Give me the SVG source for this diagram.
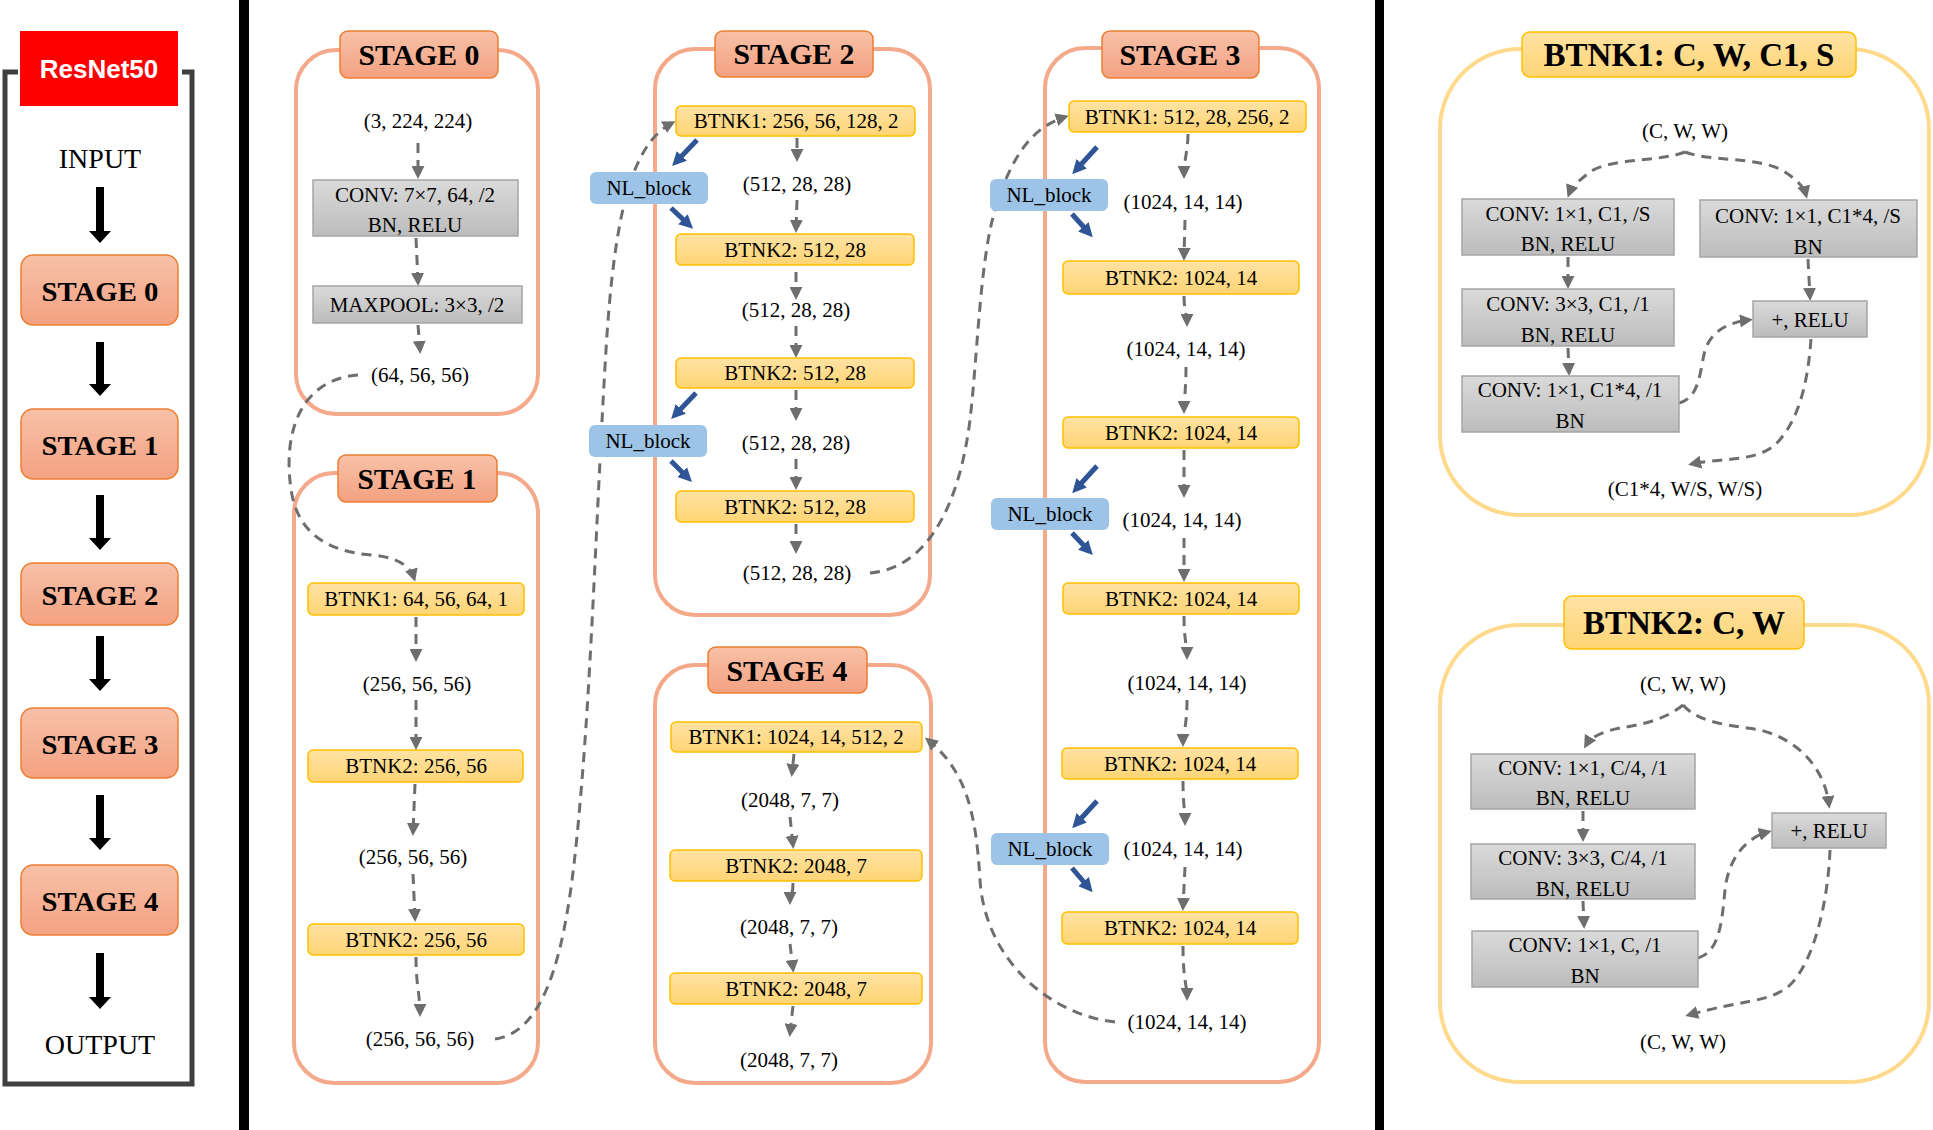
<svg xmlns="http://www.w3.org/2000/svg" width="1933" height="1130" viewBox="0 0 1933 1130">
<defs>
<linearGradient id="gStage" x1="0" y1="0" x2="0" y2="1"><stop offset="0" stop-color="#F7C1A8"/><stop offset="1" stop-color="#F4A181"/></linearGradient>
<linearGradient id="gYel" x1="0" y1="0" x2="0" y2="1"><stop offset="0" stop-color="#FFE3A4"/><stop offset="1" stop-color="#FFD474"/></linearGradient>
<linearGradient id="gGray" x1="0" y1="0" x2="0" y2="1"><stop offset="0" stop-color="#DADADA"/><stop offset="1" stop-color="#BCBCBC"/></linearGradient>
<marker id="ah" viewBox="0 0 10 10" refX="7" refY="5" markerWidth="13" markerHeight="13" markerUnits="userSpaceOnUse" orient="auto"><path d="M0,0 L10,5 L0,10 z" fill="#6E6E6E"/></marker>
<marker id="bh" viewBox="0 0 10 10" refX="6" refY="5" markerWidth="14" markerHeight="14" markerUnits="userSpaceOnUse" orient="auto"><path d="M0,0 L10,5 L0,10 z" fill="#2F5597"/></marker>
<style>
.t{font-family:"Liberation Serif","Times New Roman",serif;font-size:21px;fill:#000;text-anchor:middle;dominant-baseline:central}
.stg{font-weight:bold;font-size:29px}
.lstg{font-weight:bold;font-size:28px}
.pl{font-weight:bold;font-size:33px}
.io{font-size:28px}
.cont{fill:none;stroke:#F4A98A;stroke-width:4}
.pcont{fill:none;stroke:#FFD98C;stroke-width:4}
.lab{fill:url(#gStage);stroke:#ED7D31;stroke-width:1.5}
.yb{fill:url(#gYel);stroke:#FFC000;stroke-width:1.5}
.gb{fill:url(#gGray);stroke:#A5A5A5;stroke-width:1.5}
.nl{fill:#9DC3E6}
.d{fill:none;stroke:#6E6E6E;stroke-width:3;stroke-dasharray:10 7;marker-end:url(#ah)}
.b{fill:none;stroke:#2F5597;stroke-width:5;marker-end:url(#bh)}
.blk{fill:#000}
</style>
</defs>
<rect x="0" y="0" width="1933" height="1130" fill="#FFFFFF"/>

<!-- separators -->
<rect x="239" y="0" width="10" height="1130" fill="#000"/>
<rect x="1375" y="0" width="9" height="1130" fill="#000"/>

<!-- left overview panel -->
<g id="overview-frame">
<path d="M18,72 H5 V1084 H192 V72 H182" fill="none" stroke="#404040" stroke-width="5"/>
<rect x="20" y="31" width="158" height="75" fill="#FF0000"/>
<text x="99" y="69" style="font-family:'Liberation Sans',Arial,sans-serif;font-weight:bold;font-size:26px;fill:#FFFFFF;text-anchor:middle;dominant-baseline:central">ResNet50</text>
</g>
<g id="ov-input"><text class="t io" x="100" y="158">INPUT</text></g>
<g id="ov-stage0"><rect class="lab" x="21" y="255" width="157" height="70" rx="12"/><text class="t lstg" x="100" y="291" textLength="117" lengthAdjust="spacingAndGlyphs">STAGE 0</text></g>
<g id="ov-stage1"><rect class="lab" x="21" y="409" width="157" height="70" rx="12"/><text class="t lstg" x="100" y="445" textLength="117" lengthAdjust="spacingAndGlyphs">STAGE 1</text></g>
<g id="ov-stage2"><rect class="lab" x="21" y="563" width="157" height="62" rx="12"/><text class="t lstg" x="100" y="595" textLength="117" lengthAdjust="spacingAndGlyphs">STAGE 2</text></g>
<g id="ov-stage3"><rect class="lab" x="21" y="708" width="157" height="70" rx="12"/><text class="t lstg" x="100" y="744" textLength="117" lengthAdjust="spacingAndGlyphs">STAGE 3</text></g>
<g id="ov-stage4"><rect class="lab" x="21" y="865" width="157" height="70" rx="12"/><text class="t lstg" x="100" y="901" textLength="117" lengthAdjust="spacingAndGlyphs">STAGE 4</text></g>
<g id="ov-output"><text class="t io" x="100" y="1044">OUTPUT</text></g>

<!-- containers -->
<g id="stage0">
<rect class="cont" x="296" y="50" width="242" height="364" rx="40"/>
<rect class="lab" x="340" y="31" width="158" height="47" rx="8"/>
<text class="t stg" x="419" y="55" textLength="121" lengthAdjust="spacingAndGlyphs">STAGE 0</text>
</g>
<g id="stage1">
<rect class="cont" x="294" y="473" width="244" height="610" rx="40"/>
<rect class="lab" x="338" y="455" width="159" height="47" rx="8"/>
<text class="t stg" x="417" y="479" textLength="119" lengthAdjust="spacingAndGlyphs">STAGE 1</text>
</g>
<g id="stage2">
<rect class="cont" x="655" y="49" width="275" height="566" rx="40"/>
<rect class="lab" x="715" y="31" width="158" height="46" rx="8"/>
<text class="t stg" x="794" y="54" textLength="121" lengthAdjust="spacingAndGlyphs">STAGE 2</text>
</g>
<g id="stage3">
<rect class="cont" x="1045" y="48" width="274" height="1034" rx="40"/>
<rect class="lab" x="1102" y="31" width="157" height="47" rx="8"/>
<text class="t stg" x="1180" y="55" textLength="121" lengthAdjust="spacingAndGlyphs">STAGE 3</text>
</g>
<g id="stage4">
<rect class="cont" x="655" y="665" width="276" height="418" rx="40"/>
<rect class="lab" x="708" y="647" width="159" height="46" rx="8"/>
<text class="t stg" x="787" y="671" textLength="121" lengthAdjust="spacingAndGlyphs">STAGE 4</text>
</g>
<g id="btnk1-panel">
<rect class="pcont" x="1440" y="49" width="489" height="466" rx="80"/>
<rect class="yb" x="1522" y="32" width="334" height="45" rx="8"/>
<text class="t pl" x="1689" y="55" textLength="291" lengthAdjust="spacingAndGlyphs">BTNK1: C, W, C1, S</text>
</g>
<g id="btnk2-panel">
<rect class="pcont" x="1440" y="625" width="489" height="457" rx="80"/>
<rect class="yb" x="1564" y="596" width="240" height="53" rx="8"/>
<text class="t pl" x="1684" y="623" textLength="202" lengthAdjust="spacingAndGlyphs">BTNK2: C, W</text>
</g>

<!-- connectors -->
<g id="connectors">
<!-- overview block arrows -->
<path class="blk" d="M96,187 H104 V231 H111 L100,243 L89,231 H96 Z"/>
<path class="blk" d="M96,342 H104 V384 H111 L100,396 L89,384 H96 Z"/>
<path class="blk" d="M96,495 H104 V538 H111 L100,550 L89,538 H96 Z"/>
<path class="blk" d="M96,636 H104 V679 H111 L100,691 L89,679 H96 Z"/>
<path class="blk" d="M96,795 H104 V838 H111 L100,850 L89,838 H96 Z"/>
<path class="blk" d="M96,953 H104 V997 H111 L100,1009 L89,997 H96 Z"/>

<!-- stage 0 -->
<path class="d" d="M418,143 L418,175"/>
<path class="d" d="M416,238 L418,282"/>
<path class="d" d="M418,325 L420,350"/>
<!-- stage 1 -->
<path class="d" d="M416,617 L416,658"/>
<path class="d" d="M416,700 L416,746"/>
<path class="d" d="M415,784 L413,832"/>
<path class="d" d="M413,874 L415,918"/>
<path class="d" d="M416,957 C416,985 420,995 420,1013"/>
<!-- stage 2 -->
<path class="d" d="M797,138 L797,158"/>
<path class="d" d="M797,200 L796,229"/>
<path class="d" d="M796,272 L796,296"/>
<path class="d" d="M796,326 L796,354"/>
<path class="d" d="M796,390 L796,417"/>
<path class="d" d="M796,459 L796,486"/>
<path class="d" d="M796,524 L796,550"/>
<!-- stage 3 -->
<path class="d" d="M1188,134 C1188,150 1184,160 1184,175"/>
<path class="d" d="M1185,220 L1184,257"/>
<path class="d" d="M1184,296 C1184,310 1187,315 1187,323"/>
<path class="d" d="M1186,367 C1186,390 1184,400 1184,410"/>
<path class="d" d="M1184,450 L1184,494"/>
<path class="d" d="M1184,538 L1184,578"/>
<path class="d" d="M1184,616 C1184,640 1187,645 1187,656"/>
<path class="d" d="M1187,700 C1187,725 1183,735 1183,743"/>
<path class="d" d="M1183,781 C1183,805 1185,810 1185,822"/>
<path class="d" d="M1185,867 L1183,907"/>
<path class="d" d="M1183,946 C1183,980 1187,985 1187,997"/>
<!-- stage 4 -->
<path class="d" d="M794,754 L792,773"/>
<path class="d" d="M790,817 L793,845"/>
<path class="d" d="M793,883 C793,895 790,898 790,901"/>
<path class="d" d="M790,944 L793,969"/>
<path class="d" d="M793,1006 L790,1033"/>

<!-- inter-stage curves -->
<path class="d" d="M358,375 C296,380 282,440 292,495 C300,535 330,552 372,555 C395,557 410,565 414,578"/>
<path class="d" d="M495,1039 C560,1030 572,900 582,780 C592,660 598,480 606,350 C614,220 630,145 672,123"/>
<path class="d" d="M870,573 C930,568 960,500 970,420 C978,350 980,260 995,210 C1010,160 1030,128 1065,117"/>
<path class="d" d="M1115,1022 C1050,1015 985,960 980,880 C976,810 965,770 928,740"/>

<!-- NL block arrows -->
<path class="b" d="M697,140 L676,162"/>
<path class="b" d="M671,208 L689,225"/>
<path class="b" d="M696,393 L675,415"/>
<path class="b" d="M671,461 L688,478"/>
<path class="b" d="M1097,147 L1076,170"/>
<path class="b" d="M1072,214 L1089,233"/>
<path class="b" d="M1097,466 L1076,489"/>
<path class="b" d="M1072,533 L1089,551"/>
<path class="b" d="M1097,801 L1076,824"/>
<path class="b" d="M1072,868 L1089,888"/>

<!-- BTNK1 panel -->
<path class="d" d="M1685,152 C1660,162 1610,158 1590,172 C1580,180 1572,186 1569,194"/>
<path class="d" d="M1685,152 C1710,162 1760,156 1785,172 C1797,180 1804,187 1806,195"/>
<path class="d" d="M1568,257 L1568,285"/>
<path class="d" d="M1568,348 L1569,372"/>
<path class="d" d="M1808,259 L1810,297"/>
<path class="d" d="M1679,403 C1700,398 1700,370 1705,350 C1712,330 1730,322 1749,320"/>
<path class="d" d="M1811,339 C1808,380 1800,420 1775,445 C1755,462 1720,458 1692,464"/>
<!-- BTNK2 panel -->
<path class="d" d="M1683,705 C1665,720 1640,725 1620,728 C1600,732 1590,738 1586,745"/>
<path class="d" d="M1683,705 C1700,725 1740,726 1760,730 C1800,740 1825,770 1829,805"/>
<path class="d" d="M1583,811 L1583,838"/>
<path class="d" d="M1583,901 L1584,925"/>
<path class="d" d="M1698,958 C1720,952 1722,920 1725,890 C1728,860 1745,838 1768,832"/>
<path class="d" d="M1830,850 C1828,900 1815,960 1790,985 C1770,1003 1740,1000 1689,1015"/>
</g>

<!-- stage 0 nodes -->
<g id="s0-in"><text class="t" x="418" y="121">(3, 224, 224)</text></g>
<g id="s0-conv"><rect class="gb" x="313" y="180" width="205" height="56"/><text class="t" x="415" y="195">CONV: 7×7, 64, /2</text><text class="t" x="415" y="225">BN, RELU</text></g>
<g id="s0-pool"><rect class="gb" x="313" y="286" width="209" height="37"/><text class="t" x="417" y="305">MAXPOOL: 3×3, /2</text></g>
<g id="s0-out"><text class="t" x="420" y="375">(64, 56, 56)</text></g>

<!-- stage 1 nodes -->
<g id="s1-b1"><rect class="yb" x="308" y="583" width="216" height="32" rx="5"/><text class="t" x="416" y="599">BTNK1: 64, 56, 64, 1</text></g>
<g id="s1-t1"><text class="t" x="417" y="684">(256, 56, 56)</text></g>
<g id="s1-b2"><rect class="yb" x="308" y="750" width="215" height="32" rx="5"/><text class="t" x="416" y="766">BTNK2: 256, 56</text></g>
<g id="s1-t2"><text class="t" x="413" y="857">(256, 56, 56)</text></g>
<g id="s1-b3"><rect class="yb" x="308" y="924" width="216" height="31" rx="5"/><text class="t" x="416" y="940">BTNK2: 256, 56</text></g>
<g id="s1-t3"><text class="t" x="420" y="1039">(256, 56, 56)</text></g>

<!-- stage 2 nodes -->
<g id="s2-b1"><rect class="yb" x="676" y="106" width="239" height="30" rx="5"/><text class="t" x="796" y="121">BTNK1: 256, 56, 128, 2</text></g>
<g id="s2-t1"><text class="t" x="797" y="184">(512, 28, 28)</text></g>
<g id="s2-b2"><rect class="yb" x="676" y="234" width="238" height="31" rx="5"/><text class="t" x="795" y="250">BTNK2: 512, 28</text></g>
<g id="s2-t2"><text class="t" x="796" y="310">(512, 28, 28)</text></g>
<g id="s2-b3"><rect class="yb" x="676" y="358" width="238" height="30" rx="5"/><text class="t" x="795" y="373">BTNK2: 512, 28</text></g>
<g id="s2-t3"><text class="t" x="796" y="443">(512, 28, 28)</text></g>
<g id="s2-b4"><rect class="yb" x="676" y="491" width="238" height="31" rx="5"/><text class="t" x="795" y="507">BTNK2: 512, 28</text></g>
<g id="s2-t4"><text class="t" x="797" y="573">(512, 28, 28)</text></g>
<g id="s2-nl1"><rect class="nl" x="590" y="172" width="118" height="32" rx="6"/><text class="t" x="649" y="188">NL_block</text></g>
<g id="s2-nl2"><rect class="nl" x="589" y="425" width="118" height="32" rx="6"/><text class="t" x="648" y="441">NL_block</text></g>

<!-- stage 3 nodes -->
<g id="s3-b1"><rect class="yb" x="1069" y="101" width="237" height="31" rx="5"/><text class="t" x="1187" y="117">BTNK1: 512, 28, 256, 2</text></g>
<g id="s3-t1"><text class="t" x="1183" y="202">(1024, 14, 14)</text></g>
<g id="s3-b2"><rect class="yb" x="1063" y="261" width="236" height="33" rx="5"/><text class="t" x="1181" y="278">BTNK2: 1024, 14</text></g>
<g id="s3-t2"><text class="t" x="1186" y="349">(1024, 14, 14)</text></g>
<g id="s3-b3"><rect class="yb" x="1063" y="417" width="236" height="31" rx="5"/><text class="t" x="1181" y="433">BTNK2: 1024, 14</text></g>
<g id="s3-t3"><text class="t" x="1182" y="520">(1024, 14, 14)</text></g>
<g id="s3-b4"><rect class="yb" x="1063" y="583" width="236" height="31" rx="5"/><text class="t" x="1181" y="599">BTNK2: 1024, 14</text></g>
<g id="s3-t4"><text class="t" x="1187" y="683">(1024, 14, 14)</text></g>
<g id="s3-b5"><rect class="yb" x="1062" y="748" width="236" height="31" rx="5"/><text class="t" x="1180" y="764">BTNK2: 1024, 14</text></g>
<g id="s3-t5"><text class="t" x="1183" y="849">(1024, 14, 14)</text></g>
<g id="s3-b6"><rect class="yb" x="1062" y="912" width="236" height="32" rx="5"/><text class="t" x="1180" y="928">BTNK2: 1024, 14</text></g>
<g id="s3-t6"><text class="t" x="1187" y="1022">(1024, 14, 14)</text></g>
<g id="s3-nl1"><rect class="nl" x="990" y="179" width="118" height="32" rx="6"/><text class="t" x="1049" y="195">NL_block</text></g>
<g id="s3-nl2"><rect class="nl" x="991" y="498" width="118" height="32" rx="6"/><text class="t" x="1050" y="514">NL_block</text></g>
<g id="s3-nl3"><rect class="nl" x="991" y="833" width="118" height="32" rx="6"/><text class="t" x="1050" y="849">NL_block</text></g>

<!-- stage 4 nodes -->
<g id="s4-b1"><rect class="yb" x="671" y="722" width="251" height="30" rx="5"/><text class="t" x="796" y="737">BTNK1: 1024, 14, 512, 2</text></g>
<g id="s4-t1"><text class="t" x="790" y="800">(2048, 7, 7)</text></g>
<g id="s4-b2"><rect class="yb" x="670" y="850" width="252" height="31" rx="5"/><text class="t" x="796" y="866">BTNK2: 2048, 7</text></g>
<g id="s4-t2"><text class="t" x="789" y="927">(2048, 7, 7)</text></g>
<g id="s4-b3"><rect class="yb" x="670" y="973" width="252" height="31" rx="5"/><text class="t" x="796" y="989">BTNK2: 2048, 7</text></g>
<g id="s4-t3"><text class="t" x="789" y="1060">(2048, 7, 7)</text></g>

<!-- BTNK1 panel nodes -->
<g id="p1-in"><text class="t" x="1685" y="131">(C, W, W)</text></g>
<g id="p1-c1"><rect class="gb" x="1462" y="199" width="212" height="56"/><text class="t" x="1568" y="214">CONV: 1×1, C1, /S</text><text class="t" x="1568" y="244">BN, RELU</text></g>
<g id="p1-cr"><rect class="gb" x="1700" y="200" width="217" height="57"/><text class="t" x="1808" y="216">CONV: 1×1, C1*4, /S</text><text class="t" x="1808" y="247">BN</text></g>
<g id="p1-c2"><rect class="gb" x="1462" y="289" width="212" height="57"/><text class="t" x="1568" y="304">CONV: 3×3, C1, /1</text><text class="t" x="1568" y="335">BN, RELU</text></g>
<g id="p1-c3"><rect class="gb" x="1462" y="376" width="217" height="56"/><text class="t" x="1570" y="390">CONV: 1×1, C1*4, /1</text><text class="t" x="1570" y="421">BN</text></g>
<g id="p1-add"><rect class="gb" x="1753" y="301" width="114" height="36"/><text class="t" x="1810" y="320">+, RELU</text></g>
<g id="p1-out"><text class="t" x="1685" y="489">(C1*4, W/S, W/S)</text></g>

<!-- BTNK2 panel nodes -->
<g id="p2-in"><text class="t" x="1683" y="684">(C, W, W)</text></g>
<g id="p2-c1"><rect class="gb" x="1471" y="754" width="224" height="55"/><text class="t" x="1583" y="768">CONV: 1×1, C/4, /1</text><text class="t" x="1583" y="798">BN, RELU</text></g>
<g id="p2-c2"><rect class="gb" x="1471" y="844" width="224" height="55"/><text class="t" x="1583" y="858">CONV: 3×3, C/4, /1</text><text class="t" x="1583" y="889">BN, RELU</text></g>
<g id="p2-c3"><rect class="gb" x="1472" y="931" width="226" height="56"/><text class="t" x="1585" y="945">CONV: 1×1, C, /1</text><text class="t" x="1585" y="976">BN</text></g>
<g id="p2-add"><rect class="gb" x="1772" y="813" width="114" height="35"/><text class="t" x="1829" y="831">+, RELU</text></g>
<g id="p2-out"><text class="t" x="1683" y="1042">(C, W, W)</text></g>
</svg>
